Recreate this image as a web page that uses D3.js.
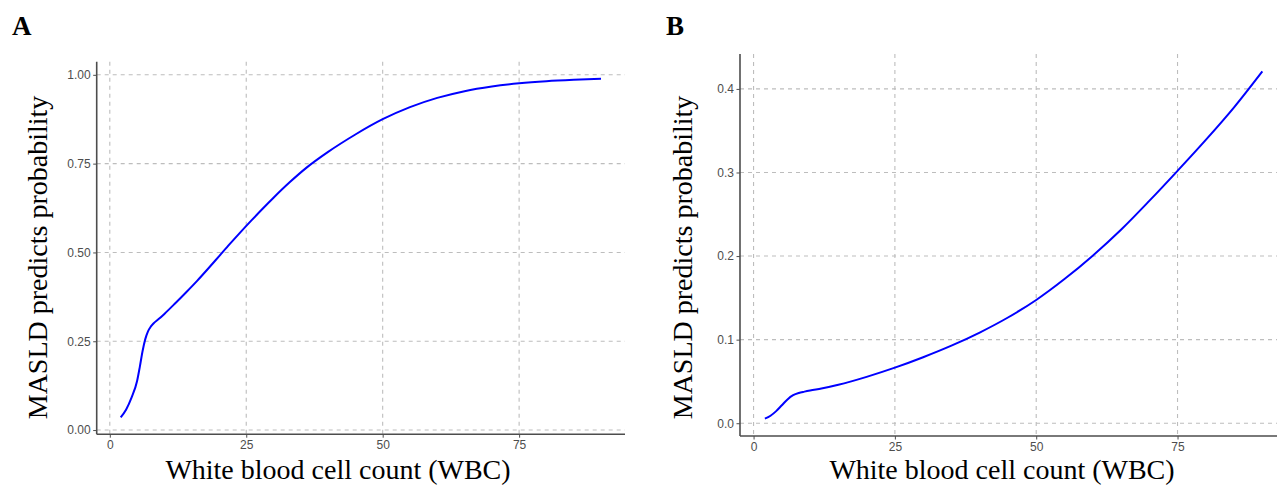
<!DOCTYPE html>
<html>
<head>
<meta charset="utf-8">
<script src="https://cdn.jsdelivr.net/npm/d3@7"></script>
<style>
  html, body { margin: 0; padding: 0; background: #fff; }
  svg { display: block; }
</style>
</head>
<body>
<svg id="chart" width="1277" height="491"></svg>
<script>
// ---- data ----
const wbcA = [2, 3, 4, 5, 5.5, 6, 6.5, 7, 7.5, 8, 9, 10, 12, 14, 16, 18, 20, 22, 24, 26, 28, 30, 33, 36, 40, 45, 50, 55, 60, 65, 70, 75, 80, 85, 90];
const probA = [0.036, 0.058, 0.092, 0.138, 0.178, 0.222, 0.256, 0.278, 0.291, 0.300, 0.313, 0.327, 0.357, 0.388, 0.420, 0.454, 0.489, 0.524, 0.558, 0.591, 0.623, 0.654, 0.698, 0.738, 0.783, 0.832, 0.875, 0.909, 0.935, 0.954, 0.967, 0.976, 0.982, 0.986, 0.989];

const wbcB = [2, 3, 4, 5, 6, 7, 8, 9, 10, 12, 15, 20, 25, 30, 35, 40, 45, 50, 55, 60, 65, 70, 75, 80, 85, 90];
const probB = [0.0055, 0.009, 0.0145, 0.0215, 0.0285, 0.0335, 0.0362, 0.0378, 0.0392, 0.0415, 0.046, 0.0555, 0.0665, 0.079, 0.0928, 0.1085, 0.1265, 0.1475, 0.1725, 0.2005, 0.2315, 0.266, 0.302, 0.339, 0.378, 0.421];

const xTicks = [0, 25, 50, 75];
const yTicksA = [0, 0.25, 0.5, 0.75, 1.0];
const yTicksB = [0, 0.1, 0.2, 0.3, 0.4];

const xTitle = "White blood cell count (WBC)";
const yTitle = "MASLD predicts probability";
const panelLabels = ["A", "B"];

// ---- drawing ----
const svg = d3.select("#chart");

function expandExtent(arr) {
  const [lo, hi] = d3.extent(arr);
  const pad = (hi - lo) * 0.05;
  return [lo - pad, hi + pad];
}

function drawPanel(cfg) {
  const x = d3.scaleLinear().domain(expandExtent(cfg.xs)).range([cfg.left, cfg.right]);
  const y = d3.scaleLinear().domain(expandExtent(cfg.ys)).range([cfg.bottom, cfg.top]);
  const g = svg.append("g");

  // grid
  g.append("g").selectAll("line.vg").data(cfg.xTicks).enter().append("line")
    .attr("x1", d => x(d)).attr("x2", d => x(d))
    .attr("y1", cfg.top).attr("y2", cfg.bottom)
    .attr("stroke", "#bdbdbd").attr("stroke-width", 1.1).attr("stroke-dasharray", "4,4");
  g.append("g").selectAll("line.hg").data(cfg.yTicks).enter().append("line")
    .attr("y1", d => y(d)).attr("y2", d => y(d))
    .attr("x1", cfg.left).attr("x2", cfg.right)
    .attr("stroke", "#bdbdbd").attr("stroke-width", 1.1).attr("stroke-dasharray", "4,4");

  // axes
  const xAxis = d3.axisBottom(x).tickValues(cfg.xTicks).tickFormat(d3.format("d")).tickSize(3.5).tickPadding(2.5);
  const yAxis = d3.axisLeft(y).tickValues(cfg.yTicks).tickFormat(d3.format(cfg.yFmt)).tickSize(3.5).tickPadding(2.5);

  const gx = g.append("g").attr("transform", `translate(0,${cfg.bottom})`).call(xAxis);
  const gy = g.append("g").attr("transform", `translate(${cfg.left},0)`).call(yAxis);
  [gx, gy].forEach(a => {
    a.select(".domain").remove();
    a.selectAll(".tick line").attr("stroke", "#4d4d4d").attr("stroke-width", 1);
    a.selectAll(".tick text").attr("fill", "#4d4d4d")
      .style("font-family", "'Liberation Sans', Arial, sans-serif").style("font-size", "12px");
  });
  g.append("line").attr("x1", cfg.left).attr("x2", cfg.right).attr("y1", cfg.bottom).attr("y2", cfg.bottom)
    .attr("stroke", "#4d4d4d").attr("stroke-width", 1.6);
  g.append("line").attr("x1", cfg.left).attr("x2", cfg.left).attr("y1", cfg.top).attr("y2", cfg.bottom)
    .attr("stroke", "#4d4d4d").attr("stroke-width", 1.6);

  // curve
  const line = d3.line().x(d => x(d[0])).y(d => y(d[1])).curve(d3.curveMonotoneX);
  g.append("path").datum(d3.zip(cfg.xs, cfg.ys))
    .attr("d", line).attr("fill", "none").attr("stroke", "#0000ff").attr("stroke-width", 2)
    .attr("stroke-linecap", "butt");

  // titles
  const serif = "'Liberation Serif', 'Times New Roman', serif";
  g.append("text").attr("x", cfg.xTitleX).attr("y", 479).attr("text-anchor", "middle")
    .style("font-family", serif).style("font-size", "28px").attr("fill", "#000").text(xTitle);
  g.append("text").attr("transform", `translate(${cfg.yTitleX},257.5) rotate(-90)`).attr("text-anchor", "middle")
    .style("font-family", serif).style("font-size", "28px").attr("fill", "#000").text(yTitle);
  g.append("text").attr("x", cfg.labelX).attr("y", 35)
    .style("font-family", serif).style("font-size", "27px").style("font-weight", "bold")
    .attr("fill", "#000").text(cfg.label);
}

drawPanel({
  xs: wbcA, ys: probA, xTicks: xTicks, yTicks: yTicksA, yFmt: ".2f",
  left: 96.7, right: 625, top: 61.8, bottom: 434.2,
  xTitleX: 338, yTitleX: 47, label: panelLabels[0], labelX: 12
});
drawPanel({
  xs: wbcB, ys: probB, xTicks: xTicks, yTicks: yTicksB, yFmt: ".1f",
  left: 740, right: 1287.2, top: 54, bottom: 436,
  xTitleX: 1002, yTitleX: 692, label: panelLabels[1], labelX: 666
});
</script>
</body>
</html>
